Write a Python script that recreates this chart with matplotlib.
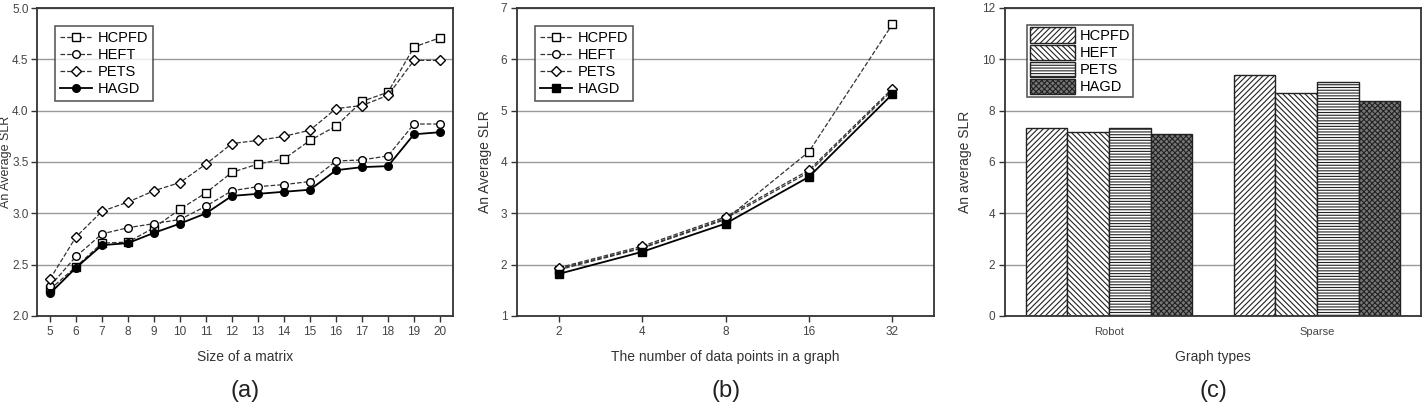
import matplotlib
matplotlib.use("Agg")
import matplotlib.pyplot as plt
import numpy as np

plt.rcParams['font.family'] = ['Liberation Sans', 'DejaVu Sans']
plt.rcParams['hatch.linewidth'] = 0.8

algos = ["HCPFD", "HEFT", "PETS", "HAGD"]

# (a) SLR vs size of a matrix
sizes = [5, 6, 7, 8, 9, 10, 11, 12, 13, 14, 15, 16, 17, 18, 19, 20]
a_hcpfd = [2.26, 2.48, 2.71, 2.72, 2.86, 3.04, 3.20, 3.40, 3.48, 3.53, 3.71, 3.85, 4.09, 4.18, 4.62, 4.71]
a_heft = [2.29, 2.58, 2.80, 2.86, 2.90, 2.94, 3.07, 3.22, 3.26, 3.28, 3.31, 3.51, 3.52, 3.56, 3.87, 3.87]
a_pets = [2.36, 2.77, 3.02, 3.11, 3.22, 3.30, 3.48, 3.68, 3.71, 3.75, 3.81, 4.02, 4.05, 4.15, 4.49, 4.49]
a_hagd = [2.22, 2.47, 2.69, 2.71, 2.81, 2.90, 3.00, 3.17, 3.19, 3.21, 3.23, 3.42, 3.45, 3.46, 3.77, 3.79]

# (b) SLR vs number of data points
points = ["2", "4", "8", "16", "32"]
b_hcpfd = [1.90, 2.32, 2.88, 4.20, 6.68]
b_heft = [1.92, 2.33, 2.90, 3.80, 5.40]
b_pets = [1.94, 2.36, 2.93, 3.84, 5.43]
b_hagd = [1.82, 2.25, 2.80, 3.71, 5.32]

# (c) SLR by graph type
graph_types = ["Robot", "Sparse"]
c_hcpfd = [7.33, 9.40]
c_heft = [7.18, 8.69]
c_pets = [7.33, 9.12]
c_hagd = [7.08, 8.36]

fig = plt.figure(figsize=(14.23, 4.12), dpi=100)
W, H = 1423, 412
LABEL_FS = 10
TICK_FS = 8.5


def axes_px(x0, x1, y0, y1):
    return fig.add_axes([x0 / W, (H - y1) / H, (x1 - x0) / W, (y1 - y0) / H])


def style(ax):
    for s in ax.spines.values():
        s.set_color("#333333")
        s.set_linewidth(1.3)
    ax.yaxis.grid(True, color="#999999", linewidth=1.0)
    ax.set_axisbelow(True)
    ax.tick_params(labelsize=TICK_FS, labelcolor="#444444", color="#333333",
                   length=4, width=1.0, pad=3)


line_styles = [
    dict(ls="--", color="#333333", lw=0.9, marker="s", mfc="white", mec="black", ms=5.5),
    dict(ls="--", color="#333333", lw=0.9, marker="o", mfc="white", mec="black", ms=5.5),
    dict(ls="--", color="#333333", lw=0.9, marker="D", mfc="white", mec="black", ms=5.5),
    dict(ls="-", color="black", lw=1.3, marker="o", mfc="black", mec="black", ms=5.5),
]


def legend(ax, **kw):
    opts = dict(loc="upper left", bbox_to_anchor=(0.025, 0.965), fontsize=10.5,
                frameon=True, fancybox=False, handlelength=2.2,
                borderpad=0.35, labelspacing=0.2, handletextpad=0.4)
    opts.update(kw)
    lg = ax.legend(**opts)
    lg.get_frame().set_edgecolor("#333333")
    lg.get_frame().set_linewidth(1.2)


def labels(ax, xl, yl, ycoord, yfs=LABEL_FS):
    ax.set_xlabel(xl, fontsize=LABEL_FS, color="#333333", labelpad=9)
    ax.set_ylabel(yl, fontsize=yfs, color="#333333")
    ax.yaxis.set_label_coords(ycoord, 0.5)


def caption(x, s):
    fig.text(x / W, 1 - 391 / H, s, ha="center", va="center", fontsize=17,
             family=["Liberation Sans Narrow", "Liberation Sans"], color="#222222")


# panel (a)
ax = axes_px(37, 453, 8, 316)
style(ax)
for vals, name, st in zip([a_hcpfd, a_heft, a_pets, a_hagd], algos, line_styles):
    ax.plot(sizes, vals, label=name, **st)
ax.set_xlim(4.5, 20.5)
ax.set_ylim(2.0, 5.0)
ax.set_xticks(sizes)
yt = np.arange(2.0, 5.01, 0.5)
ax.set_yticks(yt)
ax.set_yticklabels([f"{v:.1f}" for v in yt])
ax.tick_params(axis="y", pad=2)
labels(ax, "Size of a matrix", "An Average SLR", -0.061, yfs=9)
legend(ax)
caption(245, "(a)")

# panel (b)
ax = axes_px(517, 934, 8, 316)
style(ax)
xb = np.arange(len(points))
b_styles = [dict(s) for s in line_styles]
b_styles[3]["marker"] = "s"
for vals, name, st in zip([b_hcpfd, b_heft, b_pets, b_hagd], algos, b_styles):
    ax.plot(xb, vals, label=name, **st)
ax.set_xlim(-0.5, 4.5)
ax.set_ylim(1, 7)
ax.set_xticks(xb)
ax.set_xticklabels(points)
labels(ax, "The number of data points in a graph", "An Average SLR", -0.06)
legend(ax)
caption(726, "(b)")

# panel (c)
ax = axes_px(1005, 1421, 8, 316)
style(ax)
xc = np.arange(len(graph_types))
bw = 0.2
hatches = ["//////", "\\\\\\\\\\\\", "------", "xxxxxx"]
faces = ["white", "white", "white", "#777777"]
for i, (vals, name) in enumerate(zip([c_hcpfd, c_heft, c_pets, c_hagd], algos)):
    ax.bar(xc + (i - 1.5) * bw, vals, bw, label=name, facecolor=faces[i],
           edgecolor="#222222", hatch=hatches[i], linewidth=1.0)
ax.set_xlim(-0.5, 1.5)
ax.set_ylim(0, 12)
ax.set_xticks(xc)
ax.set_xticklabels(graph_types, fontsize=8)
ax.tick_params(axis="x", length=0, pad=8)
labels(ax, "Graph types", "An average SLR", -0.079)
legend(ax, bbox_to_anchor=(0.035, 0.97), handlelength=3.1, handleheight=1.25,
       borderpad=0.2, labelspacing=0.1, handletextpad=0.3)
caption(1213, "(c)")

fig.savefig("out.png", dpi=100)
